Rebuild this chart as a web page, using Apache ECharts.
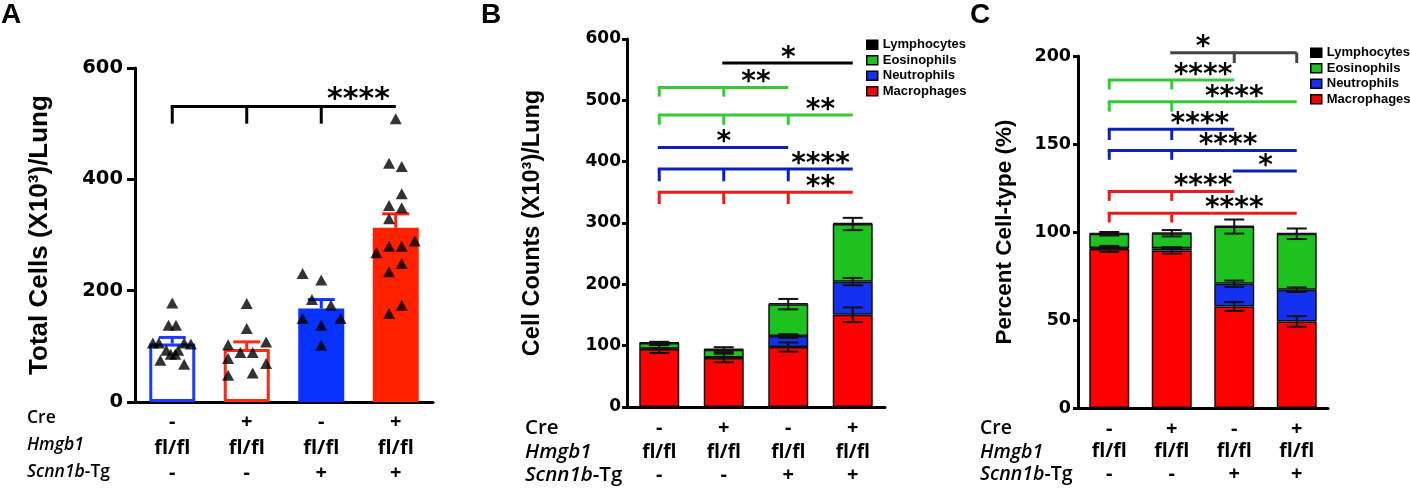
<!DOCTYPE html>
<html style="height: 100%">
<head>
<meta charset="utf-8">
<style type="text/css">
* { margin: 0; padding: 0; }
body { background: #fff; }
#chart { width: 1410px; height: 489px; }
</style>
</head>
<body>
<div id="chart"></div>
<script type="text/javascript" src="https://cdn.jsdelivr.net/npm/echarts@6/dist/echarts.min.js"></script>
<script type="text/javascript">
// genotype rows under each bar
var creRow = ['-', '+', '-', '+'];
var hmgb1Row = ['fl/fl', 'fl/fl', 'fl/fl', 'fl/fl'];
var tgRow = ['-', '-', '+', '+'];

// panel A: total cells, mean +/- SEM and single animals [offset in category, value]
var totalMean = [105, 95, 168, 313];
var totalSem = [11, 13, 16, 25];
var totalPoints = [
  [[0, 178], [-0.05, 138], [0.05, 138], [-0.26, 106], [-0.18, 106], [0.16, 106], [0.25, 104],
   [-0.08, 93], [0.08, 93], [-0.02, 86], [0.04, 86], [-0.16, 75], [0.16, 68]],
  [[0, 177], [0, 132], [-0.25, 103], [0.26, 108], [-0.085, 89], [0.08, 89], [-0.25, 78],
   [0.26, 69], [0.08, 52], [-0.25, 48]],
  [[-0.25, 231], [0, 219], [-0.125, 184], [0.13, 174], [-0.25, 150], [0.26, 150], [0, 138], [0, 102]],
  [[0, 509], [-0.09, 429], [0.08, 423], [0.08, 374], [-0.09, 353], [0.08, 349], [-0.09, 329],
   [0.255, 289], [-0.26, 268], [-0.09, 280], [0.08, 280], [0.08, 249], [-0.09, 234], [0.08, 174], [-0.09, 159]]
];

// panel B: cell counts (X10^3)/lung
var countMac = [94.5, 80, 97.7, 150.4];
var countNeu = [0.5, 0.8, 18, 54];
var countEos = [9.3, 12.7, 52, 94];
var countLym = [1, 1, 1.5, 1.5];
var countMacSem = [6.5, 7, 7.5, 12];
var countNeuSem = [1, 1, 3, 6];
var countEosSem = [2, 4, 8.5, 10];

// panel C: percent cell-type
var pctMac = [90.4, 89.5, 57.7, 49.2];
var pctNeu = [0.5, 1.3, 12.9, 18];
var pctEos = [8.1, 8.5, 32.5, 31.8];
var pctLym = [0.3, 0.3, 0.3, 0.3];
var pctMacSem = [1.7, 1.8, 2.5, 3];
var pctNeuSem = [0.4, 0.5, 1.8, 1.3];
var pctEosSem = [1, 1.8, 4, 3];

// significance brackets: from/to category, level, tick end, tick categories, label, label position
var bracketsA = [
  { type: 'all', from: 0, to: 3, level: 531, drop: 500, ticks: [0, 1, 2], label: '****', at: 2.5 }
];
var bracketsB = [
  { type: 'lym', from: 1, to: 3, level: 561, drop: 561, ticks: [], label: '*', at: 2 },
  { type: 'eos', from: 0, to: 2, level: 521, drop: 506, ticks: [0, 1], label: '**', at: 1.5 },
  { type: 'eos', from: 0, to: 3, level: 476, drop: 460, ticks: [0, 1, 2], label: '**', at: 2.5 },
  { type: 'neu', from: 0, to: 2, level: 423, drop: 423, ticks: [], label: '*', at: 1 },
  { type: 'neu', from: 0, to: 3, level: 388, drop: 368, ticks: [0, 1, 2], label: '****', at: 2.5 },
  { type: 'mac', from: 0, to: 3, level: 350, drop: 331, ticks: [0, 1, 2], label: '**', at: 2.5 }
];
var bracketsC = [
  { type: 'lymC', from: 1, to: 3, level: 201.9, drop: 196, ticks: [2, 3], label: '*', at: 1.5 },
  { type: 'eos', from: 0, to: 2, level: 186.4, drop: 181, ticks: [0, 1], label: '****', at: 1.5 },
  { type: 'eos', from: 0, to: 3, level: 174, drop: 168.4, ticks: [0, 1], label: '****', at: 2 },
  { type: 'neu', from: 0, to: 2, level: 158.4, drop: 152.3, ticks: [0, 1], label: '****', at: 1.45 },
  { type: 'neu', from: 0, to: 3, level: 146.3, drop: 141, ticks: [0, 1], label: '****', at: 1.9 },
  { type: 'neu', from: 2, to: 3, level: 134.7, drop: 134.7, ticks: [], label: '*', at: 2.5 },
  { type: 'mac', from: 0, to: 2, level: 123, drop: 117.7, ticks: [0, 1], label: '****', at: 1.5 },
  { type: 'mac', from: 0, to: 3, level: 110.7, drop: 105.4, ticks: [0, 1], label: '****', at: 2 }
];

var bracketColors = { all: '#000', lym: '#000', lymC: '#444', eos: '#33cc33', neu: '#0c1fb8', mac: '#ee1a1a' };
var cellColors = { Macrophages: '#ff0000', Neutrophils: '#1430f0', Eosinophils: '#1ec21e', Lymphocytes: '#000000' };
var colorsA = ['#1a3cff', '#ff2a12', '#0a32ff', '#ff2200'];

var dom = document.getElementById('chart');
var myChart = echarts.init(dom);

function catLabels(lh, fs, fls) {
  return {
    interval: 0, margin: lh.margin, color: '#000',
    formatter: function (v, i) {
      return '{s|' + creRow[i] + '}\n{f|' + hmgb1Row[i] + '}\n{s|' + tgRow[i] + '}';
    },
    rich: {
      s: { fontFamily: 'Open Sans', fontWeight: 'bold', fontSize: fs, lineHeight: lh.h, color: '#000' },
      f: { fontFamily: 'Open Sans', fontWeight: 'bold', fontSize: fls, lineHeight: lh.h, color: '#000' }
    }
  };
}

function catAxis(grid, tickLen, lh, fs, fls) {
  return {
    type: 'category', gridIndex: grid, data: creRow.map(function (c, i) { return 'g' + i; }),
    axisLine: { onZero: false, lineStyle: { color: '#000', width: 3 } },
    axisTick: { alignWithLabel: true, length: tickLen, lineStyle: { color: '#000', width: 3 } },
    axisLabel: catLabels(lh, fs, fls)
  };
}

function valAxis(grid, max, interval, name, nameSize, gap, labSize, tickLen, margin) {
  return {
    type: 'value', gridIndex: grid, min: 0, max: max, interval: interval,
    name: name, nameLocation: 'middle', nameGap: gap,
    nameTextStyle: { fontFamily: 'Liberation Sans', fontWeight: 'bold', fontSize: nameSize, color: '#000' },
    splitLine: { show: false },
    axisLine: { show: true, onZero: false, lineStyle: { color: '#000', width: 3 } },
    axisTick: { show: true, length: tickLen, lineStyle: { color: '#000', width: 3 } },
    axisLabel: { fontFamily: 'DejaVu Sans', fontWeight: 'bold', fontSize: labSize, color: '#000', margin: margin }
  };
}

// category axes snap to whole indices, so interpolate between neighbours for half positions
function coordAt(api, pos, value) {
  var lo = Math.floor(pos), hi = Math.ceil(pos);
  var a = api.coord([lo, value]);
  if (lo === hi) return a;
  var b = api.coord([hi, value]);
  var f = pos - lo;
  return [a[0] + (b[0] - a[0]) * f, a[1]];
}

function bracketSeries(list, xi, yi, fontSize, lift) {
  return {
    type: 'custom', xAxisIndex: xi, yAxisIndex: yi, silent: true, z: 6, clip: false,
    data: list.map(function (b) { return [b.from, b.level]; }),
    renderItem: function (params, api) {
      var b = list[params.dataIndex];
      var color = bracketColors[b.type];
      var p0 = api.coord([b.from, b.level]);
      var p1 = api.coord([b.to, b.level]);
      var kids = [{ type: 'line', shape: { x1: p0[0] - 1.5, y1: p0[1], x2: p1[0], y2: p1[1] },
                    style: { stroke: color, lineWidth: 3 } }];
      b.ticks.forEach(function (t) {
        var a = api.coord([t, b.level]);
        var d = api.coord([t, b.drop]);
        kids.push({ type: 'line', shape: { x1: a[0], y1: a[1], x2: d[0], y2: d[1] },
                    style: { stroke: color, lineWidth: 3 } });
      });
      var lp = coordAt(api, b.at, b.level);
      kids.push({ type: 'text', x: lp[0], y: lp[1] - lift,
                  style: { text: b.label, fill: '#000', fontFamily: 'DejaVu Sans', fontWeight: 'bold',
                           fontSize: fontSize, align: 'center', verticalAlign: 'middle' } });
      return { type: 'group', children: kids };
    }
  };
}

// error bars: items [category, position, sem]
function errorSeries(items, xi, yi, half, width, colorFn, upperOnly) {
  return {
    type: 'custom', xAxisIndex: xi, yAxisIndex: yi, silent: true, z: 4,
    data: items,
    renderItem: function (params, api) {
      var c = api.value(0), v = api.value(1), e = api.value(2);
      var hi = api.coord([c, v + e]);
      var lo = api.coord([c, upperOnly ? v : v - e]);
      var col = colorFn(c);
      var kids = [
        { type: 'line', shape: { x1: hi[0], y1: hi[1], x2: lo[0], y2: lo[1] }, style: { stroke: col, lineWidth: width } },
        { type: 'line', shape: { x1: hi[0] - half, y1: hi[1], x2: hi[0] + half, y2: hi[1] }, style: { stroke: col, lineWidth: width } }
      ];
      if (!upperOnly) {
        kids.push({ type: 'line', shape: { x1: lo[0] - half, y1: lo[1], x2: lo[0] + half, y2: lo[1] },
                    style: { stroke: col, lineWidth: width } });
      }
      return { type: 'group', children: kids };
    }
  };
}

function stackErrors(layers, sems) {
  var out = [];
  var cum = [0, 0, 0, 0];
  layers.forEach(function (layer, li) {
    layer.forEach(function (v, i) {
      cum[i] += v;
      if (sems[li]) out.push([i, cum[i], sems[li][i]]);
    });
  });
  return out;
}

function stackSeries(xi, yi, stackName, mac, neu, eos, lym, width) {
  var names = ['Macrophages', 'Neutrophils', 'Eosinophils', 'Lymphocytes'];
  return [mac, neu, eos, lym].map(function (d, k) {
    return {
      name: names[k], type: 'bar', stack: stackName, xAxisIndex: xi, yAxisIndex: yi,
      barWidth: width, data: d, z: 2,
      itemStyle: { color: cellColors[names[k]], borderColor: '#111', borderWidth: 1.5 },
      emphasis: { disabled: true }
    };
  });
}

function rowLabels(x, ys, size) {
  var base = { fontFamily: 'Open Sans', fontWeight: 600, fontSize: size, fill: '#000' };
  return [
    { type: 'text', x: x, y: ys[0], style: Object.assign({ text: 'Cre', verticalAlign: 'middle' }, base) },
    { type: 'text', x: x, y: ys[1], style: Object.assign({ text: 'Hmgb1', fontStyle: 'italic', verticalAlign: 'middle' }, base) },
    { type: 'text', x: x, y: ys[2], style: Object.assign({
        text: '{i|Scnn1b}-Tg', verticalAlign: 'middle',
        rich: { i: { fontFamily: 'Open Sans', fontWeight: 600, fontStyle: 'italic', fontSize: size, fill: '#000' } }
      }, base) }
  ];
}

function letter(x, t) {
  return { type: 'text', x: x, y: 15, style: { text: t, fontFamily: 'Liberation Sans', fontWeight: 'bold',
           fontSize: 28, fill: '#000', verticalAlign: 'middle' } };
}

var scatterData = [];
totalPoints.forEach(function (grp, g) {
  grp.forEach(function (p) { scatterData.push([g + p[0], p[1]]); });
});

var legendBase = {
  orient: 'vertical', itemWidth: 11, itemHeight: 9, itemGap: 2, icon: 'rect',
  data: ['Lymphocytes', 'Eosinophils', 'Neutrophils', 'Macrophages'],
  itemStyle: { borderColor: '#000', borderWidth: 1.5 },
  textStyle: { fontFamily: 'Liberation Sans', fontWeight: 'bold', fontSize: 13, color: '#000', lineHeight: 13.5 }
};

option = {
  animation: false,
  backgroundColor: '#fff',
  grid: [
    { left: 135, top: 68, width: 298, height: 334 },
    { left: 627, top: 39, width: 258, height: 368 },
    { left: 1078, top: 56, width: 250, height: 352 }
  ],
  legend: [
    Object.assign({ left: 861, top: 33 }, legendBase),
    Object.assign({ left: 1305, top: 41 }, legendBase)
  ],
  xAxis: [
    catAxis(0, 8, { h: 25.5, margin: 8 }, 20, 20),
    { type: 'value', gridIndex: 0, min: -0.5, max: 3.5, show: false },
    catAxis(1, 7, { h: 23.5, margin: 10 }, 20, 19),
    catAxis(2, 7, { h: 22.5, margin: 10 }, 20, 19.5)
  ],
  yAxis: [
    valAxis(0, 600, 200, 'Total Cells (X10³)/Lung', 26, 82, 19.5, 8, 12),
    valAxis(1, 600, 100, 'Cell Counts (X10³)/Lung', 23.5, 82, 17, 5, 6),
    valAxis(2, 200, 50, 'Percent Cell-type (%)', 22.5, 62, 17.5, 5, 7)
  ],
  graphic: [letter(1, 'A'), letter(481, 'B'), letter(970, 'C')]
    .concat(rowLabels(27, [418, 445, 472], 17.5))
    .concat(rowLabels(525, [428, 452, 475], 20.5))
    .concat(rowLabels(980, [428, 452, 474], 19.5)),
  series: [
    {
      type: 'bar', xAxisIndex: 0, yAxisIndex: 0, barWidth: 46, z: 2,
      data: totalMean.map(function (v, i) {
        var hollow = i < 2;
        return { value: v, itemStyle: { color: hollow ? '#fff' : colorsA[i],
                 borderColor: colorsA[i], borderWidth: hollow ? 3 : 0 } };
      })
    },
    errorSeries(totalMean.map(function (v, i) { return [i, v, totalSem[i]]; }), 0, 0, 13.5, 3,
                function (c) { return colorsA[c]; }, true),
    {
      type: 'scatter', xAxisIndex: 1, yAxisIndex: 0, symbol: 'triangle', symbolSize: [12, 11],
      itemStyle: { color: '#000' }, data: scatterData, z: 5
    },
    bracketSeries(bracketsA, 0, 0, 30, 6)
  ]
  .concat(stackSeries(2, 1, 'B', countMac, countNeu, countEos, countLym, 40))
  .concat([errorSeries(stackErrors([countMac, countNeu, countEos], [countMacSem, countNeuSem, countEosSem]),
                       2, 1, 10, 2, function () { return '#111'; }, false),
           bracketSeries(bracketsB, 2, 1, 28, 4.5)])
  .concat(stackSeries(3, 2, 'C', pctMac, pctNeu, pctEos, pctLym, 40))
  .concat([errorSeries(stackErrors([pctMac, pctNeu, pctEos], [pctMacSem, pctNeuSem, pctEosSem]),
                       3, 2, 10, 2, function () { return '#111'; }, false),
           bracketSeries(bracketsC, 3, 2, 28, 4.5)])
};

myChart.setOption(option);
</script>
</body>
</html>
